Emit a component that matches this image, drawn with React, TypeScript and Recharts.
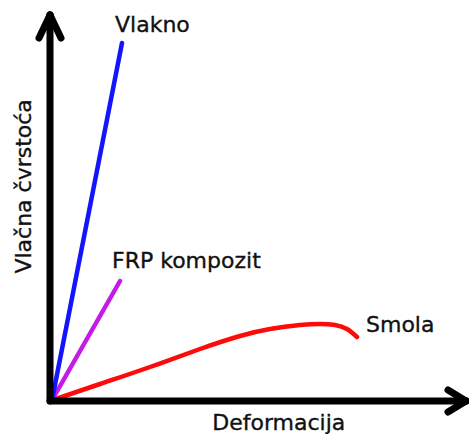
import React from 'react';
import { LineChart, Line, XAxis, YAxis, ReferenceLine, LabelList } from 'recharts';

// schematic stress-strain diagram, arbitrary units
const vlaknoStrain = [2, 72];
const vlaknoStress = [1, 358];

const frpStrain = [2, 70];
const frpStress = [1, 120];

const smolaStrain = [3, 50, 100, 150, 190, 220, 250, 270, 285, 297, 307];
const smolaStress = [1, 17, 34, 52, 65, 72, 76, 77, 76, 72, 64];

const xMax = 416;
const yMax = 386;

const toPoints = (xs: number[], ys: number[]) => xs.map((x, i) => ({ x, y: ys[i] }));

const vlaknoData = toPoints(vlaknoStrain, vlaknoStress);
const frpData = toPoints(frpStrain, frpStress);
const smolaData = toPoints(smolaStrain, smolaStress);

const FONT = '"DejaVu Sans", sans-serif';
const textStyle = { fontFamily: FONT, fontSize: 22, fill: '#111', stroke: '#111', strokeWidth: 0.35 };

const endLabel = (text: string, count: number, dx: number, dy: number) => (props: any) => {
  if (props.index !== count - 1) return null;
  return (
    <text x={props.x + dx} y={props.y + dy} {...textStyle}>
      {text}
    </text>
  );
};

const XTitle = (props: any) => {
  const vb = props.viewBox;
  return (
    <text x={vb.x + vb.width * 0.55} y={vb.y + 29} textAnchor="middle" {...textStyle}>
      Deformacija
    </text>
  );
};

const YTitle = (props: any) => {
  const vb = props.viewBox;
  const x = vb.x + 31;
  const y = vb.y + vb.height * 0.444;
  return (
    <text x={x} y={y} transform={`rotate(-90, ${x}, ${y})`} textAnchor="middle" {...textStyle}>
      Vlačna čvrstoća
    </text>
  );
};

const axisStyle = { stroke: '#000', strokeWidth: 7, strokeLinecap: 'round' as const };

export default function App() {
  return (
    <div style={{ position: 'absolute', left: 0, top: 0, background: '#fff' }}>
      <LineChart width={469} height={434} margin={{ top: 15, right: 3, left: 0, bottom: 0 }}>
        <XAxis
          type="number"
          dataKey="x"
          domain={[0, xMax]}
          allowDataOverflow
          height={33}
          tick={false}
          tickLine={false}
          axisLine={axisStyle}
          label={<XTitle />}
        />
        <YAxis
          type="number"
          dataKey="y"
          domain={[0, yMax]}
          allowDataOverflow
          width={50}
          tick={false}
          tickLine={false}
          axisLine={axisStyle}
          label={<YTitle />}
        />
        {/* arrow heads */}
        <ReferenceLine ifOverflow="visible" segment={[{ x: -11, y: yMax - 23 }, { x: 0, y: yMax }]} {...axisStyle} />
        <ReferenceLine ifOverflow="visible" segment={[{ x: 11, y: yMax - 23 }, { x: 0, y: yMax }]} {...axisStyle} />
        <ReferenceLine ifOverflow="visible" segment={[{ x: xMax - 18, y: 11 }, { x: xMax, y: 0 }]} {...axisStyle} />
        <ReferenceLine ifOverflow="visible" segment={[{ x: xMax - 18, y: -11 }, { x: xMax, y: 0 }]} {...axisStyle} />

        <Line data={smolaData} dataKey="y" type="natural" stroke="#ff0a0a" strokeWidth={4.5} strokeLinecap="round" dot={false} activeDot={false} isAnimationActive={false}>
          <LabelList dataKey="y" content={endLabel('Smola', smolaData.length, 9, -5)} />
        </Line>
        <Line data={frpData} dataKey="y" type="linear" stroke="#c41ce6" strokeWidth={4.5} strokeLinecap="round" dot={false} activeDot={false} isAnimationActive={false}>
          <LabelList dataKey="y" content={endLabel('FRP kompozit', frpData.length, -8, -13)} />
        </Line>
        <Line data={vlaknoData} dataKey="y" type="linear" stroke="#1414ff" strokeWidth={4.5} strokeLinecap="round" dot={false} activeDot={false} isAnimationActive={false}>
          <LabelList dataKey="y" content={endLabel('Vlakno', vlaknoData.length, -7, -11)} />
        </Line>
      </LineChart>
    </div>
  );
}
